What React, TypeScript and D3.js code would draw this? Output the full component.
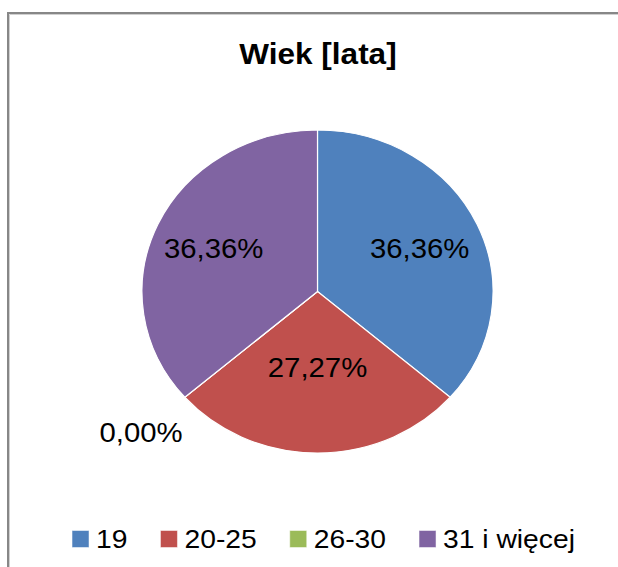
import React from 'react';
import * as d3 from 'd3';

// chart data
const title = 'Wiek [lata]';
const categories = ['19', '20-25', '26-30', '31 i więcej'];
const counts = [4, 3, 0, 4];
const colors = ['#4F81BD', '#C0504D', '#9BBB59', '#8064A2'];

// where each percentage label sits, as a fraction of the radius
const labelRadius = [0.64, 0.47, 1.33, 0.65];

const W = 618;
const H = 567;
const FONT = "'Liberation Sans', Arial, sans-serif";

function measure(text: string, font: string) {
  const ctx = document.createElement('canvas').getContext('2d');
  if (!ctx) return text.length * 14;
  ctx.font = font;
  return ctx.measureText(text).width;
}

export default function App() {
  const cx = 317.5;
  const cy = 291.5;
  const r = 161.5;
  const sx = 1.087; // the picture is a bit wider than tall

  const total = d3.sum(counts);
  const pct = counts.map(c => (c / total * 100).toFixed(2).replace('.', ',') + '%');

  const pie = d3.pie<number>().sort(null).value(d => d);
  const arcs = pie(counts);
  const arc = d3.arc<d3.PieArcDatum<number>>().innerRadius(0).outerRadius(r);

  // legend layout
  const legendFont = 26;
  const box = 17;
  const gapBoxText = 7;
  const gapItems = 33;
  const widths = categories.map(c => measure(c, `${legendFont}px ${FONT}`) * sx);
  const itemW = widths.map(w => box + gapBoxText + w);
  const totalW = d3.sum(itemW) + gapItems * (categories.length - 1);
  let lx = 323.5 - totalW / 2;
  const legendX = itemW.map(w => {
    const x = lx;
    lx += w + gapItems;
    return x;
  });
  const legendY = 539;

  return (
    <svg width={W} height={H} style={{ position: 'absolute', left: 0, top: 0, background: '#fff' }}>
      <rect width={W} height={H} fill="#fff" />
      <path d={`M8,${H} L8,13 L${W},13`} fill="none" stroke="#878787" strokeWidth={2} />
      <path d={`M9.5,${H} L9.5,14.5 L${W},14.5`} fill="none" stroke="#d0d0d0" strokeWidth={1} />

      <text
        transform={`translate(${W / 2 + 9},64) scale(${sx},1)`}
        textAnchor="middle"
        fontFamily={FONT}
        fontWeight="bold"
        fontSize={29}
        fill="#000"
      >
        {title}
      </text>

      <g transform={`translate(${cx},${cy}) scale(${sx},1)`}>
        {arcs.map((a, i) => (
          <path
            key={i}
            d={arc(a) || ''}
            fill={colors[i]}
            stroke="#fff"
            strokeWidth={1.2}
            vectorEffect="non-scaling-stroke"
          />
        ))}
      </g>

      {arcs.map((a, i) => {
        const lr = r * labelRadius[i];
        const [x, y] = d3.arc<d3.PieArcDatum<number>>().innerRadius(lr).outerRadius(lr).centroid(a);
        return (
          <text
            key={i}
            transform={`translate(${cx + x * sx},${cy + y}) scale(${sx},1)`}
            textAnchor="middle"
            dy="0.36em"
            fontFamily={FONT}
            fontSize={27}
            fill="#000"
          >
            {pct[i]}
          </text>
        );
      })}

      {categories.map((c, i) => (
        <g key={c} transform={`translate(${legendX[i]},${legendY})`}>
          <rect x={0} y={-box / 2} width={box} height={box} fill={colors[i]} stroke="#fff" strokeOpacity={0.5} strokeWidth={1} />
          <text
            transform={`translate(${box + gapBoxText},0) scale(${sx},1)`}
            dy="0.36em"
            fontFamily={FONT}
            fontSize={legendFont}
            fill="#000"
          >
            {c}
          </text>
        </g>
      ))}
    </svg>
  );
}
